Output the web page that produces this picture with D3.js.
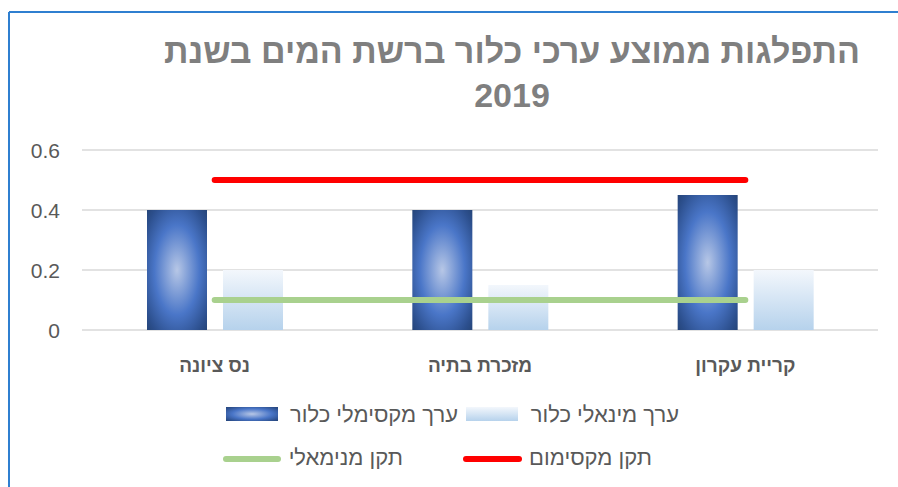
<!DOCTYPE html>
<html><head><meta charset="utf-8">
<script src="https://cdn.jsdelivr.net/npm/d3@7"></script>
<style>body{margin:0;background:#fff}svg{display:block}</style>
</head><body>
<script>
const categories = ["נס ציונה", "מזכרת בתיה", "קריית עקרון"];
const maxValues = [0.4, 0.4, 0.45];
const minValues = [0.2, 0.15, 0.2];
const maxStandard = [0.5, 0.5, 0.5];
const minStandard = [0.1, 0.1, 0.1];
const yTicks = [0, 0.2, 0.4, 0.6];
const seriesNames = ["ערך מקסימלי כלור", "ערך מינאלי כלור"];
const lineNames = ["תקן מנימאלי", "תקן מקסימום"];
const titleLines = ["התפלגות ממוצע ערכי כלור ברשת המים בשנת", "2019"];

const W = 898, H = 487;
const svg = d3.select("body").append("svg").attr("width", W).attr("height", H);
const defs = svg.append("defs");
const rg = defs.append("radialGradient").attr("id", "gDark").attr("cx", "50%").attr("cy", "50%").attr("r", "75%");
rg.append("stop").attr("offset", "0%").attr("stop-color", "#b7c7e6");
rg.append("stop").attr("offset", "50%").attr("stop-color", "#4a76c8");
rg.append("stop").attr("offset", "82%").attr("stop-color", "#2c4f8d");
rg.append("stop").attr("offset", "100%").attr("stop-color", "#22406f");
const lg = defs.append("linearGradient").attr("id", "gLight").attr("x1", 0).attr("y1", 0).attr("x2", 0).attr("y2", 1);
lg.append("stop").attr("offset", "0%").attr("stop-color", "#f3f7fc");
lg.append("stop").attr("offset", "100%").attr("stop-color", "#b6d2ec");

// frame
svg.append("line").attr("x1", 9).attr("x2", W).attr("y1", 12).attr("y2", 12).attr("stroke", "#2f7fd0").attr("stroke-width", 2);
svg.append("line").attr("x1", 9).attr("x2", 9).attr("y1", 12).attr("y2", H).attr("stroke", "#2f7fd0").attr("stroke-width", 2);

const font = "'Liberation Sans', Arial, sans-serif";
svg.selectAll("text.title").data(titleLines).enter().append("text")
  .attr("x", 512).attr("y", (d, i) => i === 0 ? 63 : 107)
  .attr("text-anchor", "middle").attr("font-family", font).attr("font-weight", "bold")
  .attr("font-size", 34).attr("fill", "#7f7f7f").text(d => d);

const x0 = d3.scaleBand().domain(categories).range([82, 878]);
const x1 = d3.scaleBand().domain(["max", "min"]).range([65, 201]).paddingInner(0.2105);
const y = d3.scaleLinear().domain([0, 0.6]).range([330, 150]);

// grid
svg.append("g").selectAll("line").data(yTicks).enter().append("line")
  .attr("x1", 82).attr("x2", 878).attr("y1", d => y(d)).attr("y2", d => y(d))
  .attr("stroke", "#d9d9d9").attr("stroke-width", 1.5);

const yAxis = d3.axisLeft(y).tickValues(yTicks).tickFormat(d => d === 0 ? "0" : d3.format(".1f")(d)).tickSize(0).tickPadding(0);
const ya = svg.append("g").attr("transform", "translate(60,0)").call(yAxis);
ya.select(".domain").remove();
ya.selectAll("text").attr("font-family", font).attr("font-size", 21).attr("fill", "#595959").attr("dy", "0.35em");

// bars
const barData = categories.map((c, i) => [{c, k: "max", v: maxValues[i]}, {c, k: "min", v: minValues[i]}]).flat();
svg.append("g").selectAll("rect").data(barData).enter().append("rect")
  .attr("x", d => x0(d.c) + x1(d.k)).attr("width", x1.bandwidth())
  .attr("y", d => y(d.v)).attr("height", d => y(0) - y(d.v))
  .attr("fill", d => d.k === "max" ? "url(#gDark)" : "url(#gLight)");

// lines
const line = d3.line().x((d, i) => x0(categories[i]) + x0.bandwidth() / 2).y(d => y(d));
svg.append("path").attr("d", line(maxStandard)).attr("fill", "none").attr("stroke", "#ff0000").attr("stroke-width", 6).attr("stroke-linecap", "round");
svg.append("path").attr("d", line(minStandard)).attr("fill", "none").attr("stroke", "#a9d18e").attr("stroke-width", 6).attr("stroke-linecap", "round");

// category labels
svg.append("g").selectAll("text").data(categories).enter().append("text")
  .attr("x", d => x0(d) + x0.bandwidth() / 2).attr("y", 372)
  .attr("text-anchor", "middle").attr("font-family", font).attr("font-weight", "bold")
  .attr("font-size", 19).attr("fill", "#595959").text(d => d);

// legend
const leg = svg.append("g").attr("font-family", font).attr("font-size", 22).attr("fill", "#595959");
leg.append("rect").attr("x", 226).attr("y", 407).attr("width", 52).attr("height", 14).attr("fill", "url(#gDark)");
leg.append("text").attr("x", 458).attr("y", 422).attr("text-anchor", "end").text(seriesNames[0]);
leg.append("rect").attr("x", 466).attr("y", 407).attr("width", 52).attr("height", 14).attr("fill", "url(#gLight)");
leg.append("text").attr("x", 679).attr("y", 422).attr("text-anchor", "end").text(seriesNames[1]);
leg.append("line").attr("x1", 226).attr("x2", 278).attr("y1", 459).attr("y2", 459).attr("stroke", "#a9d18e").attr("stroke-width", 6).attr("stroke-linecap", "round");
leg.append("text").attr("x", 403).attr("y", 465).attr("text-anchor", "end").text(lineNames[0]);
leg.append("line").attr("x1", 466).attr("x2", 519).attr("y1", 459).attr("y2", 459).attr("stroke", "#ff0000").attr("stroke-width", 6).attr("stroke-linecap", "round");
leg.append("text").attr("x", 652).attr("y", 465).attr("text-anchor", "end").text(lineNames[1]);
</script>
</body></html>
